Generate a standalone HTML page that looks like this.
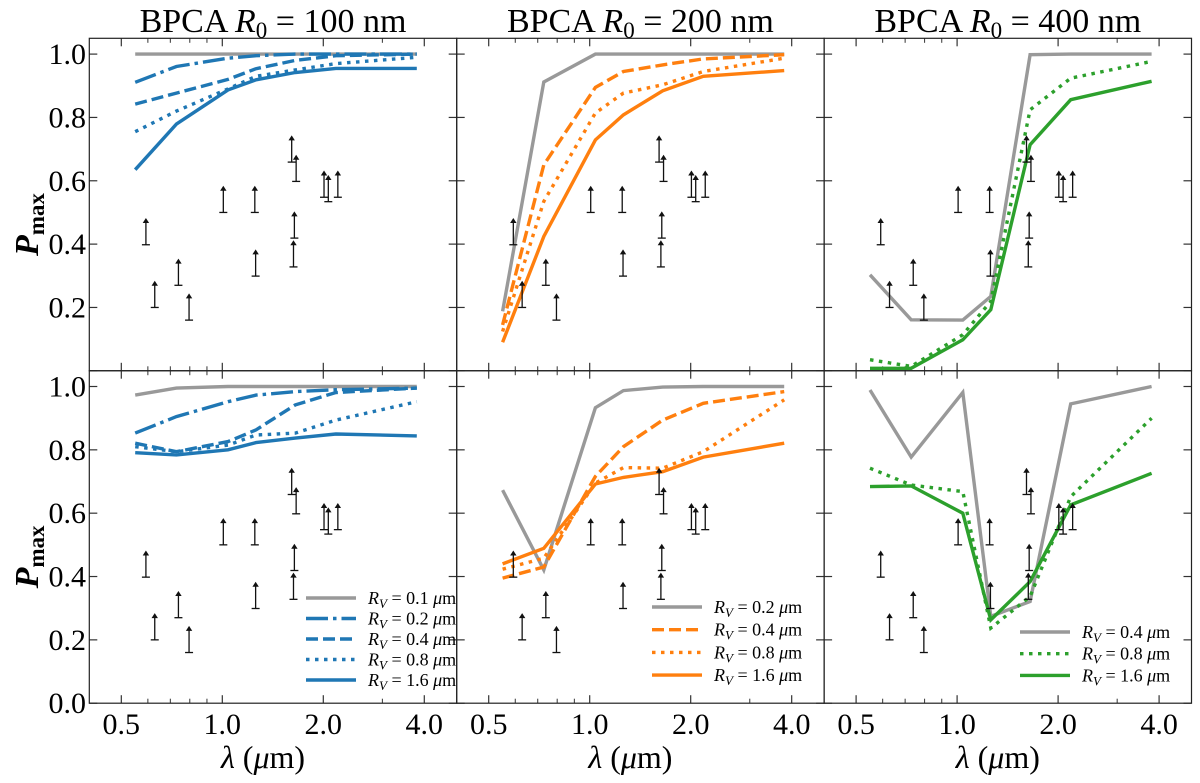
<!DOCTYPE html>
<html><head><meta charset="utf-8"><style>
html,body{margin:0;padding:0;background:#fff;}
svg{display:block;font-family:"Liberation Serif","DejaVu Serif",serif;}
svg text{font-family:"Liberation Serif","DejaVu Serif",serif;}
</style></head><body>
<svg id="chart" width="1200" height="783" viewBox="0 0 1200 783" xmlns="http://www.w3.org/2000/svg"></svg>
<script>
// ---- data ----
const lambdas = [0.55, 0.73, 1.04, 1.26, 1.65, 2.18, 3.8];
const arrowLam = [0.592, 0.629, 0.74, 0.796, 1.007, 1.25, 1.257, 1.61, 1.66, 1.64, 1.63, 2.01, 2.07, 2.21];
const arrowVal = [0.398, 0.2, 0.27, 0.16, 0.5, 0.5, 0.299, 0.659, 0.598, 0.419, 0.328, 0.548, 0.534, 0.548];
const xTicks = [0.5, 1.0, 2.0, 4.0];
const xMinorTicks = [0.6, 0.7, 0.8, 0.9, 3.0];
const yTicks = [0, 0.2, 0.4, 0.6, 0.8, 1.0];
const titles = ["100", "200", "400"];

// top row
const t1_rv01 = [1, 1, 1, 1, 1, 1, 1];
const t1_rv02 = [0.911, 0.961, 0.987, 0.995, 1.0, 1.0, 1.0];
const t1_rv04 = [0.842, 0.877, 0.92, 0.954, 0.98, 0.995, 1.0];
const t1_rv08 = [0.755, 0.82, 0.89, 0.93, 0.95, 0.97, 0.99];
const t1_rv16 = [0.635, 0.779, 0.887, 0.919, 0.942, 0.955, 0.955];
const t2_rv02 = [0.188, 0.912, 1.0, 1.0, 1.0, 1.0, 1.0];
const t2_rv04 = [0.145, 0.65, 0.895, 0.945, 0.966, 0.985, 0.998];
const t2_rv08 = [0.124, 0.535, 0.814, 0.877, 0.903, 0.945, 0.987];
const t2_rv16 = [0.09, 0.424, 0.729, 0.808, 0.884, 0.93, 0.948];
const t3_rv04 = [0.303, 0.161, 0.16, 0.235, 0.998, 1.0, 1.0];
const t3_rv08 = [0.035, 0.014, 0.114, 0.219, 0.824, 0.924, 0.977];
const t3_rv16 = [0.008, 0.008, 0.098, 0.193, 0.714, 0.856, 0.914];
// bottom row
const b1_rv01 = [0.973, 0.995, 1.0, 1.0, 1.0, 1.0, 1.0];
const b1_rv02 = [0.853, 0.905, 0.952, 0.973, 0.984, 0.99, 0.995];
const b1_rv04 = [0.821, 0.794, 0.826, 0.863, 0.942, 0.981, 0.995];
const b1_rv08 = [0.81, 0.794, 0.815, 0.847, 0.853, 0.894, 0.952];
const b1_rv16 = [0.791, 0.784, 0.80, 0.823, 0.837, 0.85, 0.844];
const b2_rv02 = [0.673, 0.421, 0.933, 0.987, 0.998, 1.0, 1.0];
const b2_rv04 = [0.395, 0.43, 0.716, 0.81, 0.894, 0.947, 0.984];
const b2_rv08 = [0.423, 0.458, 0.695, 0.744, 0.742, 0.794, 0.958];
const b2_rv16 = [0.44, 0.489, 0.692, 0.713, 0.731, 0.777, 0.821];
const b3_rv04 = [0.989, 0.777, 0.981, 0.274, 0.321, 0.945, 1.0];
const b3_rv08 = [0.742, 0.689, 0.668, 0.237, 0.337, 0.652, 0.9];
const b3_rv16 = [0.684, 0.686, 0.6, 0.263, 0.384, 0.626, 0.726];

// ---- layout ----
const NS = "http://www.w3.org/2000/svg";
const svg = document.getElementById("chart");
const FONT = '"Liberation Serif","DejaVu Serif",serif';
const panelLeft = [89.3, 456.7, 824.1];
const panelW = 367.4;
const rowTop = [38.3, 370.7];
const rowH = 332.5;
const yScale = 316.7;
const GRAY = "#999999", BLUE = "#1f77b4", ORANGE = "#ff7f0e", GREEN = "#2ca02c";
const dashes = {solid: null, dashdot: "22,5,3.5,5", dashed: "12,5", dotted: "3.5,5.5"};

function xPos(p, lam) { return panelLeft[p] + 133 + 335.5 * Math.log10(lam); }
function yPos(r, v) { return rowTop[r] + rowH - yScale * v; }
function el(tag, attrs, parent) {
  const e = document.createElementNS(NS, tag);
  for (const k in attrs) e.setAttribute(k, attrs[k]);
  if (tag === "text") e.setAttribute("font-family", FONT);
  (parent || svg).appendChild(e);
  return e;
}

const panels = [
  {r:0,p:0,series:[[t1_rv01,GRAY,"solid","rv-0.1"],[t1_rv02,BLUE,"dashdot","rv-0.2"],[t1_rv04,BLUE,"dashed","rv-0.4"],[t1_rv08,BLUE,"dotted","rv-0.8"],[t1_rv16,BLUE,"solid","rv-1.6"]]},
  {r:0,p:1,series:[[t2_rv02,GRAY,"solid","rv-0.2"],[t2_rv04,ORANGE,"dashed","rv-0.4"],[t2_rv08,ORANGE,"dotted","rv-0.8"],[t2_rv16,ORANGE,"solid","rv-1.6"]]},
  {r:0,p:2,series:[[t3_rv04,GRAY,"solid","rv-0.4"],[t3_rv08,GREEN,"dotted","rv-0.8"],[t3_rv16,GREEN,"solid","rv-1.6"]]},
  {r:1,p:0,series:[[b1_rv01,GRAY,"solid","rv-0.1"],[b1_rv02,BLUE,"dashdot","rv-0.2"],[b1_rv04,BLUE,"dashed","rv-0.4"],[b1_rv08,BLUE,"dotted","rv-0.8"],[b1_rv16,BLUE,"solid","rv-1.6"]],
    legend:{x:306,y:598,dy:20.5,labels:["0.1","0.2","0.4","0.8","1.6"]}},
  {r:1,p:1,series:[[b2_rv02,GRAY,"solid","rv-0.2"],[b2_rv04,ORANGE,"dashed","rv-0.4"],[b2_rv08,ORANGE,"dotted","rv-0.8"],[b2_rv16,ORANGE,"solid","rv-1.6"]],
    legend:{x:652,y:607,dy:22.7,labels:["0.2","0.4","0.8","1.6"]}},
  {r:1,p:2,series:[[b3_rv04,GRAY,"solid","rv-0.4"],[b3_rv08,GREEN,"dotted","rv-0.8"],[b3_rv16,GREEN,"solid","rv-1.6"]],
    legend:{x:1020,y:632,dy:21.7,labels:["0.4","0.8","1.6"]}}
];

panels.forEach((pn, idx) => {
  const g = el("g", {});
  
  
  const L = panelLeft[pn.p], T = rowTop[pn.r], R = L + panelW, B = T + rowH;
  xTicks.forEach(t => {
    const x = xPos(pn.p, t);
    el("line", {x1:x,x2:x,y1:B,y2:B-8,stroke:"#333","stroke-width":1.2}, g);
    el("line", {x1:x,x2:x,y1:T,y2:T+8,stroke:"#333","stroke-width":1.2}, g);
  });
  xMinorTicks.forEach(t => {
    const x = xPos(pn.p, t);
    el("line", {x1:x,x2:x,y1:B,y2:B-4.5,stroke:"#333","stroke-width":1}, g);
    el("line", {x1:x,x2:x,y1:T,y2:T+4.5,stroke:"#333","stroke-width":1}, g);
  });
  yTicks.forEach(t => {
    const y = yPos(pn.r, t);
    el("line", {x1:L,x2:L+8,y1:y,y2:y,stroke:"#333","stroke-width":1.2}, g);
    el("line", {x1:R,x2:R-8,y1:y,y2:y,stroke:"#333","stroke-width":1.2}, g);
  });
  pn.series.forEach(s => {
    const pts = lambdas.map((l, i) => xPos(pn.p, l).toFixed(1) + "," + yPos(pn.r, s[0][i]).toFixed(1)).join(" ");
    const a = {points:pts,fill:"none",stroke:s[1],"stroke-width":3.4,"stroke-linejoin":"miter"};
    if (dashes[s[2]]) a["stroke-dasharray"] = dashes[s[2]];
    const pl = el("polyline", a, g);
    
    
  });
  arrowLam.forEach((l, i) => {
    const x = xPos(pn.p, l), y0 = yPos(pn.r, arrowVal[i]), y1 = y0 - 26.7;
    const ag = el("g", {}, g);
    
    
    el("line", {x1:x,x2:x,y1:y0,y2:y1+4,stroke:"#111","stroke-width":1.3}, ag);
    el("line", {x1:x-4,x2:x+4,y1:y0,y2:y0,stroke:"#111","stroke-width":1.3}, ag);
    el("polygon", {points:`${x-3.2},${y1+5} ${x+3.2},${y1+5} ${x},${y1}`,fill:"#111"}, ag);
  });
  el("rect", {x:L,y:T,width:panelW,height:rowH,fill:"none",stroke:"#222","stroke-width":1.2}, g);
  if (pn.r === 1) {
    xTicks.forEach(t => {
      const tx = el("text", {x:xPos(pn.p, t),y:734,"text-anchor":"middle","font-size":30,fill:"#000"}, g);
      tx.textContent = t.toFixed(1);
      
      
    });
    const xl = el("text", {x:L + panelW/2 - 10,y:768,"text-anchor":"middle","font-size":32,fill:"#000"}, g);
    xl.innerHTML = '<tspan font-style="italic">λ</tspan> (<tspan font-style="italic">μ</tspan>m)';
    
    
  } else {
    const tt = el("text", {x:L + panelW/2,y:32,"text-anchor":"middle","font-size":34,fill:"#000"}, g);
    tt.innerHTML = 'BPCA <tspan font-style="italic">R</tspan><tspan font-size="23" dy="6">0</tspan><tspan dy="-6"> = ' + titles[pn.p] + ' nm</tspan>';
    
    
  }
  if (pn.p === 0) {
    yTicks.forEach(t => {
      if (pn.r === 0 && t === 0) return;
      const ty = el("text", {x:86,y:yPos(pn.r, t) + 10,"text-anchor":"end","font-size":30,fill:"#000"}, g);
      ty.textContent = t.toFixed(1);
      
      
    });
    const cy = T + rowH/2 + 20;
    const yl = el("text", {x:0,y:0,"text-anchor":"middle","font-size":34,fill:"#000",transform:`translate(38,${cy}) rotate(-90)`}, g);
    yl.innerHTML = '<tspan font-style="italic" font-weight="bold">P</tspan><tspan font-size="23" dy="6" font-weight="bold">max</tspan>';
    
    
  }
  if (pn.legend) {
    const lg = el("g", {}, g);
    
    
    const lser = pn.series;
    pn.legend.labels.forEach((lab, i) => {
      const s = lser[i];
      const y = pn.legend.y + i * pn.legend.dy;
      const ent = el("g", {}, lg);
      
      
      const a = {x1:pn.legend.x,x2:pn.legend.x+50,y1:y,y2:y,stroke:s[1],"stroke-width":3.4};
      if (dashes[s[2]]) a["stroke-dasharray"] = dashes[s[2]];
      el("line", a, ent);
      const tx = el("text", {x:pn.legend.x+62,y:y+6,"font-size":18,fill:"#000"}, ent);
      tx.innerHTML = '<tspan font-style="italic">R</tspan><tspan font-style="italic" font-size="13" dy="4">V</tspan><tspan dy="-4"> = ' + lab + ' </tspan><tspan font-style="italic">μ</tspan>m';
    });
  }
});
</script>
</body></html>
